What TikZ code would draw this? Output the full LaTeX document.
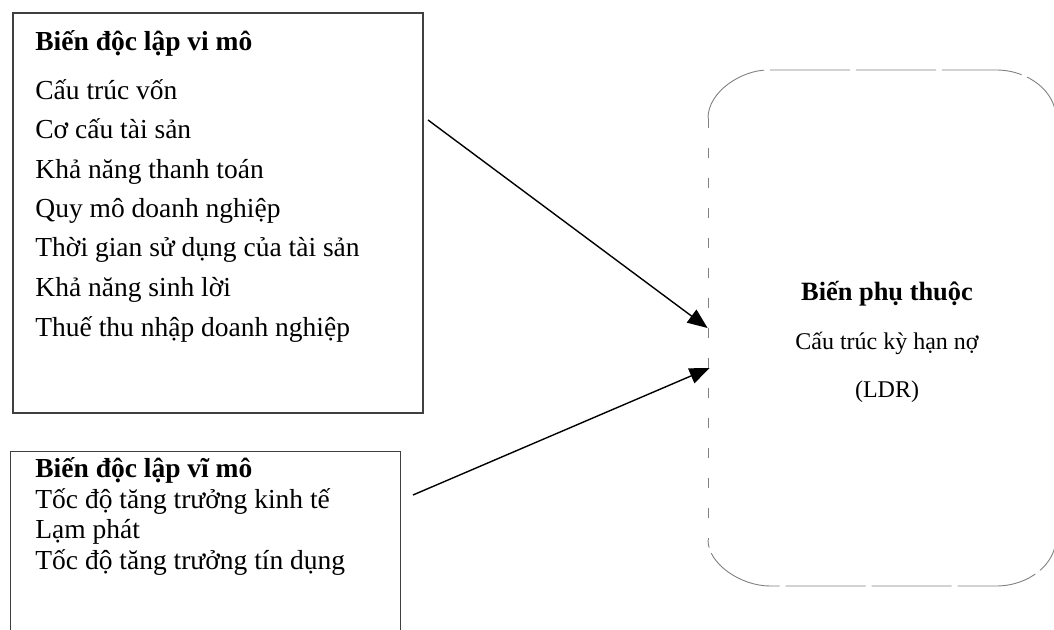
\documentclass[tikz,border=0pt]{standalone}
\usepackage{fontspec}
\setmainfont{Liberation Serif}
\usetikzlibrary{arrows.meta,fit,calc}
\begin{document}
\begin{tikzpicture}[x=0.5pt,y=-0.5pt,
  boxline/.style={draw=black!75,line width=0.7pt},
  frame/.style={inner sep=0pt,fit=#1},
  ltext/.style={anchor=west,inner sep=0pt,font=\fontsize{13.75pt}{16pt}\selectfont,text height=0.7em,text depth=0.2em},
  ltitle/.style={ltext,font=\fontsize{13.75pt}{16pt}\selectfont\bfseries},
  rtext/.style={anchor=center,inner sep=0pt,font=\fontsize{12pt}{14pt}\selectfont,text height=0.7em,text depth=0.2em},
  rtitle/.style={rtext,font=\fontsize{13.2pt}{16pt}\selectfont\bfseries},
  rboutline/.style={draw=black!50,line width=0.45pt},
  link/.style={draw=black,line width=0.7pt,-{Triangle[length=10pt,width=8pt]}}
]
\useasboundingbox (0,0) rectangle (1054,630);
\clip (0,0) rectangle (1054,630);

% box 1
\coordinate (b1nw) at (13,13);
\coordinate (b1se) at (423,413);
\node[frame={(b1nw)(b1se)},boxline] (b1) {};
\node[ltitle] (t1) at (35,46) {Biến độc lập vi mô};
\node[ltext] (l11) at (35,95) {Cấu trúc vốn};
\node[ltext] (l12) at (35,134) {Cơ cấu tài sản};
\node[ltext] (l13) at (35,174) {Khả năng thanh toán};
\node[ltext] (l14) at (35,213) {Quy mô doanh nghiệp};
\node[ltext] (l15) at (35,252) {Thời gian sử dụng của tài sản};
\node[ltext] (l16) at (35,292) {Khả năng sinh lời};
\node[ltext] (l17) at (35,332) {Thuế thu nhập doanh nghiệp};

% box 2 (bottom edge outside the picture)
\coordinate (b2nw) at (11,452);
\coordinate (b2se) at (400,640);
\node[frame={(b2nw)(b2se)}] (b2) {};
\draw[boxline] (b2.south west) -- (b2.north west) -- (b2.north east) -- (b2.south east);
\node[ltitle] (t2) at (35,472) {Biến độc lập vĩ mô};
\node[ltext] (l21) at (35,503) {Tốc độ tăng trưởng kinh tế};
\node[ltext] (l22) at (35,533) {Lạm phát};
\node[ltext] (l23) at (35,564) {Tốc độ tăng trưởng tín dụng};

% right rounded box
\coordinate (rbnw) at (708,70);
\coordinate (rbse) at (1056,586);
\node[frame={(rbnw)(rbse)}] (rb) {};
\draw[rboutline,dash pattern=on 5pt off 10pt] (708,118) -- (708,540);
\draw[rboutline,dash pattern=on 40pt off 3pt] (708,118) .. controls (708,92) and (741,70) .. (768,70) -- (996,70)
  .. controls (1029,70) and (1056,92) .. (1056,118) -- (1056,538)
  .. controls (1056,564) and (1029,586) .. (996,586) -- (770,586)
  .. controls (741,586) and (708,564) .. (708,540);
\node[rtitle] (rt) at (887,296) {Biến phụ thuộc};
\node[rtext] (r1) at (887,345) {Cấu trúc kỳ hạn nợ};
\node[rtext] (r2) at (887,393) {(LDR)};

% connectors
\coordinate (s1) at (428,120);
\coordinate (s2) at (413,495);
\draw[link] (s1) -- (rb.west);
\draw[link] (s2) -- ($(rb.west)+(2,40)$);
\end{tikzpicture}
\end{document}
